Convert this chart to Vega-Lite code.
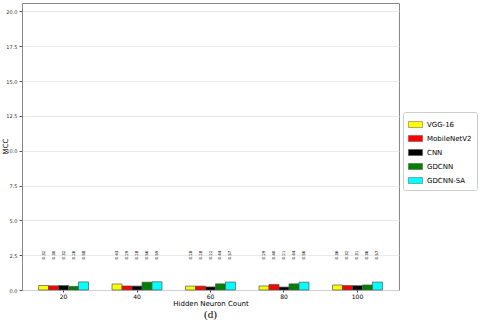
{
  "$schema": "https://vega.github.io/schema/vega-lite/v6.json",
  "autosize": "none",
  "width": 377,
  "height": 287,
  "padding": {"left": 22, "top": 3, "right": 81, "bottom": 36},
  "background": "white",
  "config": {
    "view": {"stroke": "#888888", "strokeWidth": 1},
    "font": "DejaVu Sans"
  },
  "title": {
    "text": "(d)",
    "orient": "bottom",
    "font": "Liberation Serif",
    "fontSize": 11,
    "fontWeight": "normal",
    "color": "#000000",
    "offset": 3
  },
  "data": {
    "values": [
      {"neurons": "20", "model": "VGG-16", "mcc": 0.32},
      {"neurons": "20", "model": "MobileNetV2", "mcc": 0.30},
      {"neurons": "20", "model": "CNN", "mcc": 0.32},
      {"neurons": "20", "model": "GDCNN", "mcc": 0.26},
      {"neurons": "20", "model": "GDCNN-SA", "mcc": 0.58},
      {"neurons": "40", "model": "VGG-16", "mcc": 0.43},
      {"neurons": "40", "model": "MobileNetV2", "mcc": 0.29},
      {"neurons": "40", "model": "CNN", "mcc": 0.28},
      {"neurons": "40", "model": "GDCNN", "mcc": 0.56},
      {"neurons": "40", "model": "GDCNN-SA", "mcc": 0.59},
      {"neurons": "60", "model": "VGG-16", "mcc": 0.28},
      {"neurons": "60", "model": "MobileNetV2", "mcc": 0.28},
      {"neurons": "60", "model": "CNN", "mcc": 0.22},
      {"neurons": "60", "model": "GDCNN", "mcc": 0.44},
      {"neurons": "60", "model": "GDCNN-SA", "mcc": 0.57},
      {"neurons": "80", "model": "VGG-16", "mcc": 0.29},
      {"neurons": "80", "model": "MobileNetV2", "mcc": 0.40},
      {"neurons": "80", "model": "CNN", "mcc": 0.21},
      {"neurons": "80", "model": "GDCNN", "mcc": 0.44},
      {"neurons": "80", "model": "GDCNN-SA", "mcc": 0.56},
      {"neurons": "100", "model": "VGG-16", "mcc": 0.36},
      {"neurons": "100", "model": "MobileNetV2", "mcc": 0.32},
      {"neurons": "100", "model": "CNN", "mcc": 0.31},
      {"neurons": "100", "model": "GDCNN", "mcc": 0.36},
      {"neurons": "100", "model": "GDCNN-SA", "mcc": 0.57}
    ]
  },
  "encoding": {
    "x": {
      "field": "neurons",
      "type": "nominal",
      "sort": ["20", "40", "60", "80", "100"],
      "scale": {"paddingInner": 0.32, "paddingOuter": 0.225},
      "axis": {
        "title": "Hidden Neuron Count",
        "titleFont": "DejaVu Sans",
        "titleFontSize": 7,
        "titleFontWeight": "normal",
        "titleColor": "#000000",
        "titlePadding": 0,
        "labelAngle": 0,
        "labelFontSize": 6,
        "labelColor": "#000000",
        "labelPadding": 1,
        "tickSize": 2,
        "tickColor": "#333333",
        "domain": false,
        "grid": false
      }
    },
    "xOffset": {
      "field": "model",
      "type": "nominal",
      "sort": ["VGG-16", "MobileNetV2", "CNN", "GDCNN", "GDCNN-SA"]
    }
  },
  "layer": [
    {
      "mark": {"type": "bar", "stroke": "#555555", "strokeWidth": 0.7},
      "encoding": {
        "y": {
          "field": "mcc",
          "type": "quantitative",
          "scale": {"domain": [0, 20.6], "nice": false},
          "axis": {
            "title": "MCC",
            "values": [0, 2.5, 5, 7.5, 10, 12.5, 15, 17.5, 20],
            "format": ".1f",
            "labelOverlap": false,
            "labelFontSize": 5,
            "labelColor": "#333333",
            "labelPadding": 2,
            "tickSize": 3,
            "tickColor": "#555555",
            "domain": false,
            "grid": true,
            "gridColor": "#e3e3e3",
            "gridWidth": 0.8,
            "titleFont": "DejaVu Sans",
            "titleFontSize": 7,
            "titleFontWeight": "normal",
            "titleColor": "#000000",
            "titleX": -17,
            "titleY": 143,
            "titleAngle": 270,
            "titleAlign": "center",
            "titleBaseline": "middle"
          }
        },
        "color": {
          "field": "model",
          "type": "nominal",
          "sort": ["VGG-16", "MobileNetV2", "CNN", "GDCNN", "GDCNN-SA"],
          "scale": {
            "domain": ["VGG-16", "MobileNetV2", "CNN", "GDCNN", "GDCNN-SA"],
            "range": ["#ffff00", "#ff0000", "#000000", "#008000", "#00ffff"]
          },
          "legend": {
            "title": null,
            "orient": "none",
            "legendX": 381,
            "legendY": 109,
            "symbolType": "M-1,-0.43H1V0.43H-1Z",
            "symbolSize": 200,
            "symbolStrokeColor": "#555555",
            "symbolStrokeWidth": 0.5,
            "labelFontSize": 7,
            "labelColor": "#000000",
            "labelOffset": 4,
            "rowPadding": 2,
            "padding": 5,
            "strokeColor": "#cccccc",
            "fillColor": "white",
            "cornerRadius": 2
          }
        }
      }
    },
    {
      "mark": {
        "type": "text",
        "angle": 270,
        "fontSize": 4,
        "color": "#000000",
        "align": "center",
        "baseline": "middle"
      },
      "encoding": {
        "y": {
          "datum": 2.5,
          "type": "quantitative",
          "axis": {
            "title": "MCC",
            "values": [0, 2.5, 5, 7.5, 10, 12.5, 15, 17.5, 20],
            "format": ".1f",
            "labelOverlap": false,
            "labelFontSize": 5,
            "labelColor": "#333333",
            "labelPadding": 2,
            "tickSize": 3,
            "tickColor": "#555555",
            "domain": false,
            "grid": true,
            "gridColor": "#e3e3e3",
            "gridWidth": 0.8,
            "titleFont": "DejaVu Sans",
            "titleFontSize": 7,
            "titleFontWeight": "normal",
            "titleColor": "#000000",
            "titleX": -17,
            "titleY": 143,
            "titleAngle": 270,
            "titleAlign": "center",
            "titleBaseline": "middle"
          }
        },
        "text": {"field": "mcc", "type": "quantitative", "format": ".2f"}
      }
    }
  ]
}
